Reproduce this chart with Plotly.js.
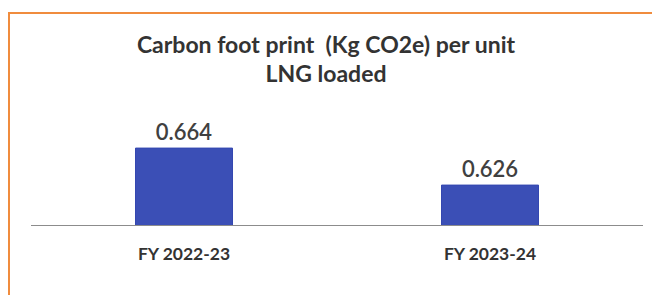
<!DOCTYPE html>
<html>
<head>
<meta charset="utf-8">
<script src="https://cdn.plot.ly/plotly-3.0.1.min.js"></script>
<style>
html,body{margin:0;padding:0;background:#fff;}
#wrap{position:relative;width:652px;height:295px;overflow:hidden;}
#frame{position:absolute;left:8px;top:12px;width:660px;height:300px;border-left:2px solid #F08C3E;border-top:2px solid #F08C3E;box-sizing:border-box;}
#chart{position:absolute;left:0;top:0;width:652px;height:295px;}
</style>
</head>
<body>
<div id="wrap"><div id="frame"></div><div id="chart"></div></div>
<script>
var categories = ["FY 2022-23", "FY 2023-24"];
var values = [0.664, 0.626];
var valueLabels = ["0.664", "0.626"];
var chartTitle = "Carbon foot print  (Kg CO2e) per unit<br>LNG loaded";

var trace = {
  type: "bar",
  x: categories,
  y: values,
  text: valueLabels,
  textposition: "outside",
  cliponaxis: false,
  textfont: {family: "Lato, 'Open Sans', sans-serif", size: 22, color: "#404040", weight: 600},
  marker: {color: "#3B4FB6", line: {color: "#3447B0", width: 1}},
  hoverinfo: "none"
};

var layout = {
  width: 652,
  height: 295,
  margin: {l: 31, r: 9, t: 100, b: 70},
  paper_bgcolor: "rgba(0,0,0,0)",
  plot_bgcolor: "rgba(0,0,0,0)",
  bargap: 0.683,
  showlegend: false,
  title: {
    text: chartTitle,
    x: 0.5, xanchor: "center",
    y: 0.822, yref: "container", yanchor: "top",
    font: {family: "Lato, 'Open Sans', sans-serif", size: 23, color: "#333333", weight: "bold"}
  },
  xaxis: {
    showline: true, linecolor: "#8C8C8C", linewidth: 1,
    ticks: "", showgrid: false, zeroline: false,
    ticklabelstandoff: 13,
    tickfont: {family: "Lato, 'Open Sans', sans-serif", size: 17.5, color: "#333333", weight: "bold"}
  },
  yaxis: {
    range: [0.585, 0.7134],
    visible: false, showgrid: false, zeroline: false
  }
};

Plotly.newPlot("chart", [trace], layout, {displayModeBar: false, staticPlot: true});
</script>
</body>
</html>
